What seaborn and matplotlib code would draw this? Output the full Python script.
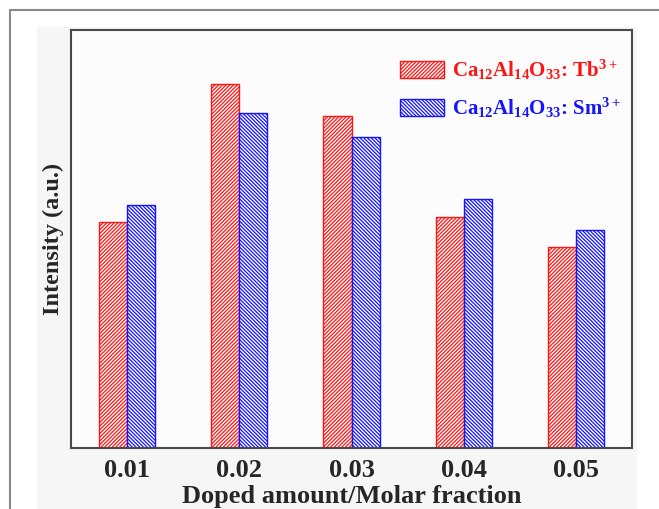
import matplotlib
matplotlib.use("Agg")
import matplotlib.pyplot as plt
from matplotlib.patches import Patch, Rectangle
from matplotlib.lines import Line2D
import seaborn as sns
import pandas as pd

# ---- data ----
categories = ["0.01", "0.02", "0.03", "0.04", "0.05"]
tb_values = [226, 364, 332, 231, 201]
sm_values = [243, 335, 311, 249, 218]
series_labels = [r"Ca$_{12}$Al$_{14}$O$_{33}$: Tb$^{3+}$",
                 r"Ca$_{12}$Al$_{14}$O$_{33}$: Sm$^{3+}$"]
series_colors = ["#ff1414", "#1414ff"]
series_hatches = ["/" * 9, "\\" * 9]

df = pd.DataFrame({
    "x": categories * 2,
    "y": tb_values + sm_values,
    "s": [series_labels[0]] * len(categories) + [series_labels[1]] * len(categories),
})

sns.set_theme(style="white")
plt.rcParams["font.family"] = ["Liberation Serif", "DejaVu Serif"]
plt.rcParams["font.weight"] = "bold"
plt.rcParams["mathtext.fontset"] = "custom"
plt.rcParams["mathtext.rm"] = "Liberation Serif:bold"
plt.rcParams["mathtext.bf"] = "Liberation Serif:bold"
plt.rcParams["mathtext.it"] = "Liberation Serif:bold"
plt.rcParams["mathtext.default"] = "bf"
plt.rcParams["hatch.linewidth"] = 0.9

fig = plt.figure(figsize=(6.59, 5.09), dpi=100, facecolor="white")
W, H = 659, 509

# light grey panel and outer frame
fig.add_artist(Rectangle((37 / W, 0), 600 / W, 1 - 27 / H, transform=fig.transFigure,
                         facecolor="#f6f6f6", edgecolor="none", zorder=-10))
fig.add_artist(Line2D([10 / W, 10 / W], [0, 1 - 10 / H], transform=fig.transFigure,
                      color="#8a8a8a", lw=1.5))
fig.add_artist(Line2D([10 / W, 1], [1 - 10 / H, 1 - 10 / H], transform=fig.transFigure,
                      color="#8a8a8a", lw=1.5))

ax = fig.add_axes([71 / W, 1 - 448 / H, (632 - 71) / W, (448 - 30) / H])
ax.set_facecolor("#fcfcfc")

sns.barplot(data=df, x="x", y="y", hue="s", order=categories, hue_order=series_labels,
            palette=series_colors, width=0.5, dodge=True, legend=False, ax=ax,
            errorbar=None)

for cont, col, hat in zip(ax.containers, series_colors, series_hatches):
    for p in cont.patches:
        p.set_facecolor("white")
        p.set_edgecolor(col)
        p.set_hatch(hat)
        p.set_linewidth(1.0)

ax.set_xlim(-0.5, 4.5)
ax.set_ylim(0, 418)
ax.set_yticks([])
ax.tick_params(axis="x", which="major", length=0, labelsize=19, pad=8)
ax.set_xticks([0.5, 1.5, 2.5, 3.5], minor=True)
ax.tick_params(axis="x", which="minor", direction="in", length=4, width=1, color="#444444")
for lab in ax.get_xticklabels():
    lab.set_fontweight("bold")

ax.set_xlabel("Doped amount/Molar fraction", fontsize=19, fontweight="bold", labelpad=2)
ax.set_ylabel("Intensity (a.u.)", fontsize=17.5, fontweight="bold", labelpad=5)

for sp in ax.spines.values():
    sp.set_color("#4a4a4a")
    sp.set_linewidth(1.5)
    sp.set_visible(True)

handles = [Patch(facecolor="white", edgecolor=c, hatch=h, linewidth=1.0, label=l)
           for c, h, l in zip(series_colors, series_hatches, series_labels)]
leg = ax.legend(handles=handles, loc="upper left",
                bbox_to_anchor=((400 - 71) / (632 - 71), 1 - (58 - 30) / 418),
                frameon=False, fontsize=15, handlelength=2.1, handleheight=0.9,
                handletextpad=0.4, labelspacing=0.65, borderaxespad=0, borderpad=0)
for t, c in zip(leg.get_texts(), series_colors):
    t.set_color(c)
    t.set_fontweight("bold")

fig.savefig("out.png", dpi=100, facecolor="white")
